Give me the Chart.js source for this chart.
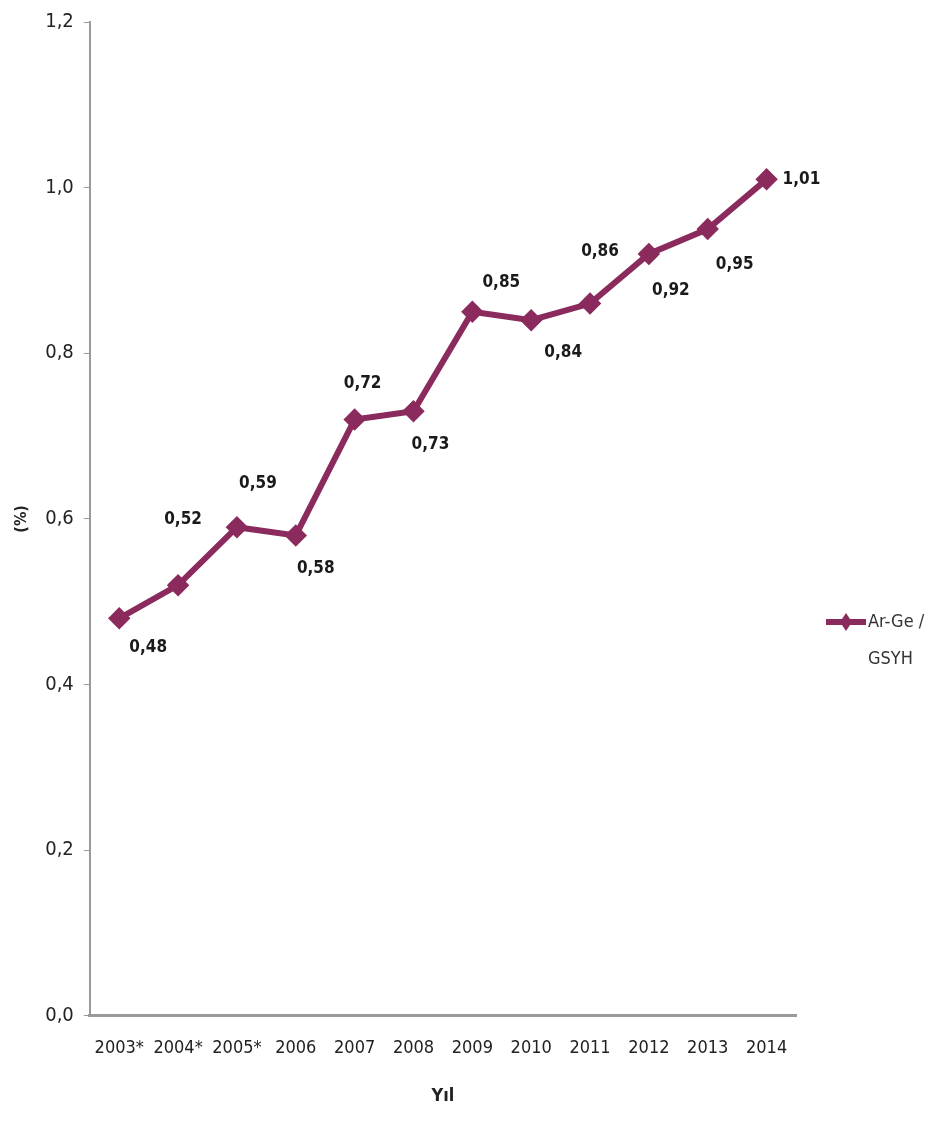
<!DOCTYPE html>
<html>
<head>
<meta charset="utf-8">
<script src="https://cdn.jsdelivr.net/npm/chart.js@4.4.1/dist/chart.umd.min.js"></script>
<style>
  html, body { margin: 0; padding: 0; background: #fff; }
  #wrap { width: 927px; height: 1136px; }
</style>
</head>
<body>
<div id="wrap"><canvas id="argeGsyh"></canvas></div>
<script>
const years = ['2003*', '2004*', '2005*', '2006', '2007', '2008', '2009', '2010', '2011', '2012', '2013', '2014'];
const argeValues = [0.48, 0.52, 0.59, 0.58, 0.72, 0.73, 0.85, 0.84, 0.86, 0.92, 0.95, 1.01];
const yTicks = [0, 0.2, 0.4, 0.6, 0.8, 1.0, 1.2];

const lineColor = '#8b2b5d';
const textFont = "'Liberation Sans Narrow', 'DejaVu Sans Condensed', sans-serif";

// label nudges from each point (px), like excel placed them
const labelNudge = [[29, 29], [5, -66], [21, -44], [20, 33], [8, -36], [17, 33],
                    [29, -29], [32, 32], [10, -52], [22, 37], [27, 36], [16, 0]];

const fmt = v => v.toFixed(2).replace('.', ',');

const valueLabels = {
  id: 'valueLabels',
  afterDatasetsDraw(chart) {
    const ctx = chart.ctx;
    const meta = chart.getDatasetMeta(0);
    ctx.save();
    ctx.font = 'bold 17px ' + textFont;
    ctx.fillStyle = '#1a1a1a';
    ctx.textBaseline = 'middle';
    meta.data.forEach((pt, i) => {
      const last = i === meta.data.length - 1;
      ctx.textAlign = last ? 'left' : 'center';
      ctx.fillText(fmt(argeValues[i]), pt.x + labelNudge[i][0], pt.y + labelNudge[i][1]);
    });
    ctx.restore();
  }
};

// legend on the right, text wrapped on two lines
const sideLegend = {
  id: 'sideLegend',
  afterDraw(chart) {
    const ctx = chart.ctx;
    const x0 = 826, y0 = 622;
    ctx.save();
    ctx.strokeStyle = lineColor;
    ctx.lineWidth = 6;
    ctx.beginPath();
    ctx.moveTo(x0, y0);
    ctx.lineTo(x0 + 40, y0);
    ctx.stroke();
    ctx.fillStyle = lineColor;
    ctx.beginPath();
    ctx.moveTo(x0 + 20, y0 - 9);
    ctx.lineTo(x0 + 26, y0);
    ctx.lineTo(x0 + 20, y0 + 9);
    ctx.lineTo(x0 + 14, y0);
    ctx.closePath();
    ctx.fill();
    ctx.font = '18px ' + textFont;
    ctx.fillStyle = '#333';
    ctx.textBaseline = 'middle';
    ctx.textAlign = 'left';
    ctx.fillText('Ar-Ge /', x0 + 42, y0);
    ctx.fillText('GSYH', x0 + 42, y0 + 37);
    ctx.restore();
  }
};

const argeCtx = document.getElementById('argeGsyh').getContext('2d');
const argeChart = new Chart(argeCtx, {
  type: 'line',
  data: {
    labels: years,
    datasets: [{
      label: 'Ar-Ge / GSYH',
      data: argeValues,
      borderColor: lineColor,
      backgroundColor: lineColor,
      borderWidth: 6,
      pointStyle: 'rectRot',
      pointRadius: 7,
      pointHoverRadius: 7,
      tension: 0
    }]
  },
  options: {
    responsive: true,
    maintainAspectRatio: false,
    animation: false,
    layout: { padding: { top: 16, right: 131, bottom: 25, left: 8 } },
    plugins: {
      legend: { display: false },
      tooltip: { enabled: false }
    },
    scales: {
      x: {
        offset: true,
        grid: { display: false, drawTicks: false },
        border: { color: '#9a9a9a', width: 3 },
        ticks: {
          color: '#222',
          font: { family: textFont, size: 18 },
          padding: 22,
          maxRotation: 0
        },
        title: {
          display: true,
          text: 'Yıl',
          color: '#222',
          font: { family: textFont, size: 18, weight: 'bold' },
          padding: { top: 4 }
        }
      },
      y: {
        min: 0,
        max: 1.2,
        afterBuildTicks(axis) { axis.ticks = yTicks.map(v => ({ value: v })); },
        grid: { display: true, drawOnChartArea: false, drawTicks: true, tickLength: 6, color: '#9a9a9a' },
        border: { color: '#9a9a9a', width: 2 },
        ticks: {
          color: '#222',
          font: { family: textFont, size: 20 },
          padding: 10,
          callback: v => Number(v).toFixed(1).replace('.', ',')
        },
        title: {
          display: true,
          text: '(%)',
          color: '#222',
          font: { family: textFont, size: 16, weight: 'bold' },
          padding: { bottom: 4 }
        }
      }
    }
  },
  plugins: [valueLabels, sideLegend]
});
</script>
</body>
</html>
